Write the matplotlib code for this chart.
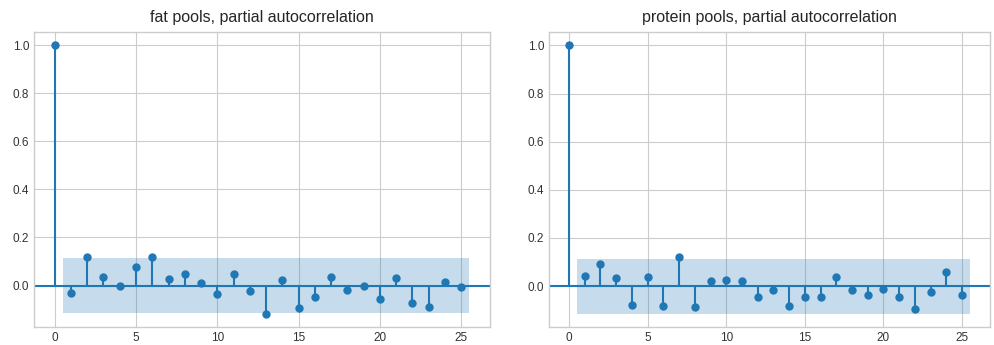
import matplotlib
matplotlib.use("Agg")
import matplotlib.pyplot as plt
import numpy as np

# значення часткової автокореляції
lags = list(range(26))
fat_pacf = [1.0, -0.031, 0.117, 0.036, 0.0, 0.078, 0.117, 0.026, 0.049, 0.01,
            -0.036, 0.049, -0.024, -0.117, 0.021, -0.093, -0.047, 0.037, -0.018,
            -0.002, -0.058, 0.032, -0.071, -0.088, 0.015, -0.008]
protein_pacf = [1.0, 0.043, 0.09, 0.032, -0.077, 0.037, -0.082, 0.122, -0.088, 0.02,
                0.025, 0.02, -0.047, -0.018, -0.082, -0.047, -0.047, 0.037, -0.018,
                -0.036, -0.013, -0.047, -0.093, -0.024, 0.06, -0.036]
conf_band = 0.114
titles = ["fat pools, partial autocorrelation", "protein pools, partial autocorrelation"]

plt.style.use("seaborn-v0_8-whitegrid")
plt.rcParams["font.family"] = ["Liberation Sans", "DejaVu Sans"]

fig = plt.figure(figsize=(9.95, 3.45), dpi=100)
ax1 = fig.add_axes([34 / 995, 18 / 345, 456 / 995, 295 / 345])
ax2 = fig.add_axes([549 / 995, 18 / 345, 441 / 995, 295 / 345])

for ax, vals, title in zip([ax1, ax2], [fat_pacf, protein_pacf], titles):
    x = np.array(lags)
    y = np.array(vals)
    ax.vlines(x, 0, y, color="#1f77b4", linewidth=1.5)
    ax.axhline(0, color="#1f77b4", linewidth=1.5)
    ax.plot(x, y, "o", color="#1f77b4", markersize=5)
    band_x = np.concatenate([[x[1] - 0.5], x[2:-1], [x[-1] + 0.5]])
    ax.fill_between(band_x, -conf_band, conf_band, color="#1f77b4", alpha=0.25, linewidth=0)
    ax.set_title(title, fontsize=11.5, color="#262626", pad=7)
    ax.set_xticks([0, 5, 10, 15, 20, 25])
    ax.set_yticks([0.0, 0.2, 0.4, 0.6, 0.8, 1.0])
    ax.tick_params(labelsize=8.5, colors="#333333")
    for sp in ax.spines.values():
        sp.set_edgecolor("#cccccc")

fig.savefig("out.png", dpi=100)
